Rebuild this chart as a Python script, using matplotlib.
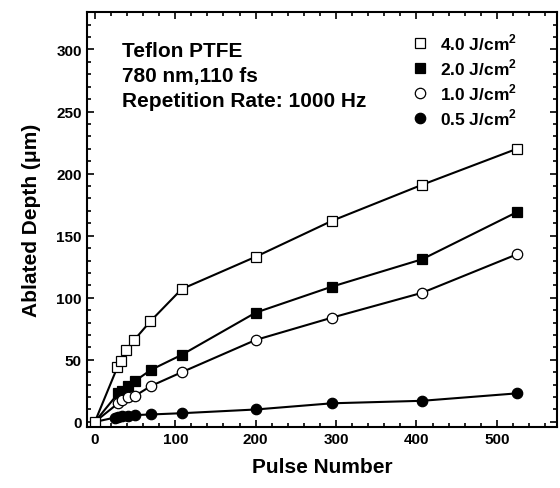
import matplotlib.pyplot as plt
from matplotlib.ticker import MultipleLocator

plt.rcParams["font.family"] = ["Liberation Sans", "DejaVu Sans"]
plt.rcParams["font.weight"] = "bold"
plt.rcParams["mathtext.fontset"] = "custom"
plt.rcParams["mathtext.rm"] = "Liberation Sans:bold"
plt.rcParams["mathtext.bf"] = "Liberation Sans:bold"

# 4.0 J/cm2
x_40 = [0, 28, 32, 39, 49, 69, 108, 200, 295, 407, 525]
y_40 = [0, 44, 49, 58, 66, 81, 107, 133, 162, 191, 220]
# 2.0 J/cm2
x_20 = [0, 29, 34, 41, 50, 70, 108, 200, 295, 407, 525]
y_20 = [0, 23, 25, 29, 33, 42, 54, 88, 109, 131, 169]
# 1.0 J/cm2
x_10 = [0, 29, 34, 41, 50, 70, 108, 200, 295, 407, 525]
y_10 = [0, 15, 18, 20, 21, 29, 40, 66, 84, 104, 135]
# 0.5 J/cm2
x_05 = [0, 25, 29, 34, 41, 50, 70, 108, 200, 295, 407, 525]
y_05 = [0, 3.5, 4, 4.5, 5, 5.5, 6, 7, 10, 15, 17, 23]

labels = ["4.0 J/cm$^2$", "2.0 J/cm$^2$", "1.0 J/cm$^2$", "0.5 J/cm$^2$"]

fig = plt.figure(figsize=(5.6, 4.89), dpi=100)
ax = fig.add_axes([0.155, 0.125, 0.84, 0.848])

series = [
    (x_40, y_40, "s", "white", labels[0]),
    (x_20, y_20, "s", "black", labels[1]),
    (x_10, y_10, "o", "white", labels[2]),
    (x_05, y_05, "o", "black", labels[3]),
]
for xs, ys, mk, fc, lab in series:
    ax.plot(xs, ys, "-", color="black", lw=1.5, zorder=2)
    ax.plot(xs[1:], ys[1:], linestyle="none", marker=mk, ms=7.5, mfc=fc,
            mec="black", mew=0.9, label=lab, zorder=3)
ax.plot([0], [0], linestyle="none", marker="s", ms=7.5, mfc="white", mec="black", mew=0.9)

ax.set_xlim(-10, 575)
ax.set_ylim(-4, 330)
ax.xaxis.set_major_locator(MultipleLocator(100))
ax.xaxis.set_minor_locator(MultipleLocator(20))
ax.yaxis.set_major_locator(MultipleLocator(50))
ax.yaxis.set_minor_locator(MultipleLocator(10))
ax.tick_params(which="both", direction="in", top=True, right=True, width=1.2)
ax.tick_params(which="major", length=5, labelsize=11)
ax.tick_params(which="minor", length=3)
for s in ax.spines.values():
    s.set_linewidth(1.5)

ax.set_xlabel("Pulse Number", fontsize=15, fontweight="bold", labelpad=8)
ax.set_ylabel("Ablated Depth (μm)", fontsize=15, fontweight="bold", labelpad=11)

ax.text(0.075, 0.93, "Teflon PTFE\n780 nm,110 fs\nRepetition Rate: 1000 Hz",
        transform=ax.transAxes, fontsize=15, fontweight="bold", va="top",
        linespacing=1.4)

leg = ax.legend(loc="upper right", frameon=False, fontsize=12.5, handletextpad=0.4,
                labelspacing=0.25, bbox_to_anchor=(0.947, 0.99), numpoints=1,
                handlelength=1.5)

fig.savefig("out.png", dpi=100)
